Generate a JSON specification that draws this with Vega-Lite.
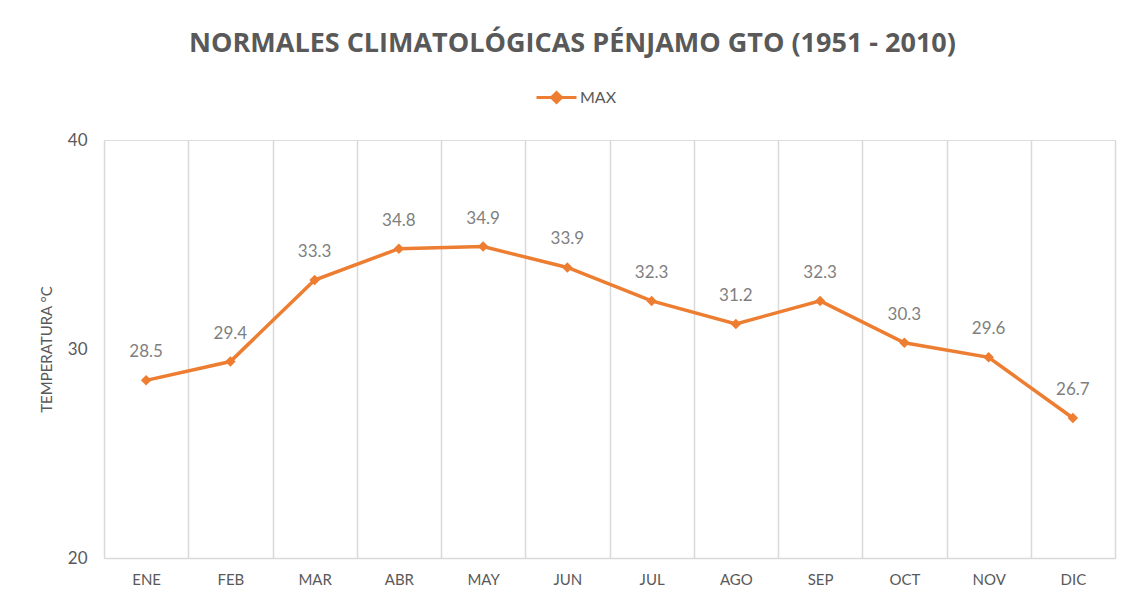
{
  "$schema": "https://vega.github.io/schema/vega-lite/v6.json",
  "width": 1011,
  "height": 418,
  "autosize": {"type": "none"},
  "padding": {"left": 104, "top": 140, "right": 16, "bottom": 42},
  "background": "white",
  "title": {
    "text": "NORMALES  CLIMATOLÓGICAS  PÉNJAMO  GTO  (1951 - 2010)",
    "font": "Open Sans",
    "fontSize": 27,
    "fontWeight": "bold",
    "color": "#595959",
    "anchor": "middle",
    "dx": -37,
    "offset": 18
  },
  "data": {
    "values": [
      {"mes": "ENE", "temp": 28.5, "serie": "MAX"},
      {"mes": "FEB", "temp": 29.4, "serie": "MAX"},
      {"mes": "MAR", "temp": 33.3, "serie": "MAX"},
      {"mes": "ABR", "temp": 34.8, "serie": "MAX"},
      {"mes": "MAY", "temp": 34.9, "serie": "MAX"},
      {"mes": "JUN", "temp": 33.9, "serie": "MAX"},
      {"mes": "JUL", "temp": 32.3, "serie": "MAX"},
      {"mes": "AGO", "temp": 31.2, "serie": "MAX"},
      {"mes": "SEP", "temp": 32.3, "serie": "MAX"},
      {"mes": "OCT", "temp": 30.3, "serie": "MAX"},
      {"mes": "NOV", "temp": 29.6, "serie": "MAX"},
      {"mes": "DIC", "temp": 26.7, "serie": "MAX"}
    ]
  },
  "encoding": {
    "x": {
      "field": "mes",
      "type": "ordinal",
      "sort": null,
      "scale": {"type": "band", "paddingInner": 0, "paddingOuter": 0},
      "axis": {
        "title": null,
        "labelAngle": 0,
        "labelFont": "Lato",
        "labelFontSize": 15,
        "labelColor": "#595959",
        "labelPadding": 14,
        "ticks": false,
        "tickBand": "extent",
        "grid": true,
        "gridColor": "#d9d9d9",
        "gridWidth": 1.5,
        "domainColor": "#d9d9d9",
        "domainWidth": 1.5
      }
    },
    "y": {
      "field": "temp",
      "type": "quantitative",
      "scale": {"domain": [20, 40], "nice": false, "zero": false},
      "axis": {
        "values": [20, 30, 40],
        "title": "TEMPERATURA °C",
        "titleFont": "Lato",
        "titleFontSize": 15,
        "titleFontWeight": "normal",
        "titleColor": "#595959",
        "titlePadding": 13,
        "labelFont": "Lato",
        "labelFontSize": 17,
        "labelColor": "#595959",
        "labelPadding": 17,
        "ticks": false,
        "domain": false,
        "grid": false
      }
    }
  },
  "layer": [
    {
      "mark": {"type": "line", "strokeWidth": 3.5},
      "encoding": {
        "color": {
          "field": "serie",
          "type": "nominal",
          "scale": {"range": ["#ED7D31"]},
          "legend": {
            "title": null,
            "orient": "none",
            "legendX": 431,
            "legendY": -64,
            "symbolType": "M-1,0H1M0,-0.25L0.25,0L0,0.25L-0.25,0Z",
            "symbolSize": 1600,
            "symbolStrokeWidth": 3,
            "symbolFillColor": "#ED7D31",
            "symbolStrokeColor": "#ED7D31",
            "labelFont": "Lato",
            "labelFontSize": 16,
            "labelColor": "#595959",
            "labelOffset": 2
          }
        }
      }
    },
    {
      "mark": {"type": "point", "shape": "diamond", "filled": true, "size": 110, "opacity": 1},
      "encoding": {
        "color": {"field": "serie", "type": "nominal", "legend": null}
      }
    },
    {
      "mark": {"type": "text", "dy": -28, "font": "Lato", "fontSize": 17, "color": "#7f7f7f"},
      "encoding": {
        "text": {"field": "temp", "type": "quantitative", "format": ".1f"}
      }
    }
  ]
}
